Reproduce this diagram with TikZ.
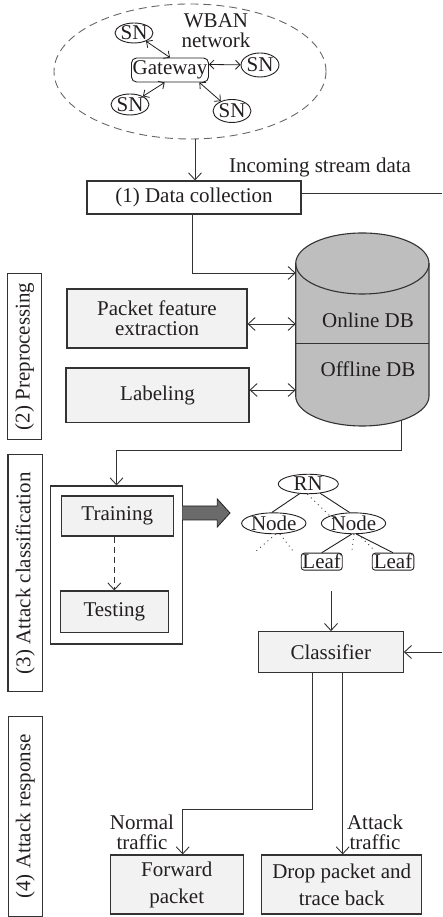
\documentclass[tikz,border=0pt]{standalone}
\usepackage{fontspec}
\setmainfont{Liberation Serif}
\usetikzlibrary{arrows.meta,shapes.geometric,calc}
\definecolor{boxfill}{HTML}{F1F2F1}
\definecolor{cylfill}{HTML}{BEBEBE}
\definecolor{bigarrow}{HTML}{6B6B6B}
\definecolor{ink}{HTML}{231F20}
\definecolor{linec}{HTML}{333333}
\begin{document}
\begin{tikzpicture}[x=1pt,y=1pt,
  font=\fontsize{21}{20}\selectfont, text=ink,
  >={Straight Barb[length=7pt,width=13pt]},
  box/.style={draw=linec, line width=1.1pt, fill=boxfill, inner sep=0pt, align=center},
  wbox/.style={box, fill=white},
  conn/.style={draw=linec, line width=0.9pt},
  wa/.style={draw=ink, line width=0.8pt, {Straight Barb[length=4.5pt,width=9pt]}-{Straight Barb[length=4.5pt,width=9pt]}},
  sn/.style={ellipse, draw=ink, line width=0.9pt, inner sep=0pt},
  leaf/.style={rectangle, rounded corners=3pt, draw=ink, line width=0.9pt, inner sep=0pt},
  dots/.style={draw=linec, line width=0.9pt, dash pattern=on 0.9pt off 4pt},
  sidebox/.style={draw=linec, line width=1.1pt, rotate=90, inner sep=0pt},
]
\useasboundingbox (0,0) rectangle (442,917);

% WBAN network
\draw[gray!80!black, line width=0.9pt, dash pattern=on 8pt off 5pt] (190,845.5) ellipse [x radius=136, y radius=67.5];
\node[align=center] (wban) at (216,886) {WBAN\\network};
\node[rectangle, rounded corners=5pt, draw=ink, line width=0.9pt, inner sep=0pt, minimum width=77, minimum height=24] (gw) at (170,847) {Gateway};
\node[sn, minimum width=30, minimum height=20] (sn1) at (134,884) {SN};
\node[sn, minimum width=34, minimum height=24] (sn2) at (260,852) {SN};
\node[sn, minimum width=31, minimum height=21] (sn3) at (130,812.5) {SN};
\node[sn, minimum width=33, minimum height=23] (sn4) at (232,806) {SN};
\draw[wa] (sn1) -- (gw.north);
\draw[wa] (gw.8) -- (sn2);
\draw[wa] (sn3) -- (gw.247);
\draw[wa] (gw.-23) -- (sn4);
\coordinate (eb) at (195,778);

% Data collection
\node[wbox, minimum width=214, minimum height=33] (dc) at (194,719.5) {(1) Data collection};
\draw[conn,->] (eb) -- (eb |- dc.north);
\node (isd) at (320,750) {Incoming stream data};
\coordinate (inR) at (442,724);
\draw[conn] (dc.east |- inR) -- (inR);

% Cylinder
\fill[cylfill] (295.7,653.5) -- (295.7,521) arc[start angle=180,end angle=360,x radius=66.65,y radius=30] -- (429,653.5) arc[start angle=0,end angle=180,x radius=66.65,y radius=30.5] -- cycle;
\draw[linec, line width=1.1pt] (295.7,653.5) -- (295.7,521) arc[start angle=180,end angle=360,x radius=66.65,y radius=30] -- (429,653.5);
\draw[linec, line width=1.1pt] (362.35,653.5) ellipse [x radius=66.65, y radius=30.5];
\draw[linec, line width=1.1pt] (295.7,573.7) -- (429,573.7);
\node (online) at (368,596.3) {Online DB};
\node (offline) at (368,548) {Offline DB};
\coordinate (cylIn) at (295.7,644);
\coordinate (cylA) at (295.7,593);
\coordinate (cylB) at (295.7,527);
\coordinate (cylOut) at (401.7,496.8);
\coordinate (dcOut) at (192,703);
\draw[conn,->] (dcOut) |- (cylIn);

% Preprocessing boxes
\node[box, minimum width=180, minimum height=59] (pfe) at (157,598.5) {Packet feature\\extraction};
\node[box, minimum width=183, minimum height=54.5] (lab) at (157.5,521.75) {Labeling};
\draw[conn,<->] (pfe.east |- cylA) -- (cylA);
\draw[conn,<->] (lab.east |- cylB) -- (cylB);

% Attack classification
\node[wbox, minimum width=131.6, minimum height=158] (ac) at (116.5,352) {};
\node[box, minimum width=112.3, minimum height=40] (tr) at (117.2,401) {Training};
\node[box, minimum width=108, minimum height=41.3] (te) at (114.3,305.3) {Testing};
\coordinate (acTurn) at (401.7,467);
\draw[conn,->] (cylOut) -- (acTurn) -| (ac.north);
\draw[conn,->, dash pattern=on 6pt off 4pt] (tr.south -| te.north) -- (te.north);
\filldraw[fill=bigarrow, draw=ink, line width=0.8pt] (182.3,411) -- (217.3,411) -- (217.3,418) -- (230,404) -- (217.3,390) -- (217.3,397) -- (182.3,397);

% Tree
\node[sn, minimum width=60, minimum height=18] (rn) at (308.3,433) {RN};
\node[sn, minimum width=61, minimum height=17] (nl) at (273.8,393.7) {Node};
\node[sn, minimum width=61.6, minimum height=17] (nr) at (353.5,393.7) {Node};
\node[leaf, minimum width=41, minimum height=17] (lf1) at (321.7,355.3) {Leaf};
\node[leaf, minimum width=41.6, minimum height=17] (lf2) at (393,355.3) {Leaf};
\draw[ink, line width=0.9pt] (rn.228) -- (nl.100);
\draw[ink, line width=0.9pt] (rn.322) -- (nr.110);
\draw[ink, line width=0.9pt] (nr.260) -- (lf1.north);
\draw[ink, line width=0.9pt] (nr.285) -- (lf2.north);
\coordinate (d1) at (333,398);
\coordinate (d2) at (255,365);
\coordinate (d3) at (293,366);
\coordinate (d4) at (352,366);
\coordinate (d5) at (375,366);
\draw[dots] (rn.265) -- (d1);
\draw[dots] (nl.280) -- (d2);
\draw[dots] (nl.300) -- (d3);
\draw[dots] (nr.272) -- (d4);
\draw[dots] (nr.292) -- (d5);

% Classifier
\node[box, minimum width=145, minimum height=40.6] (cl) at (330.8,265) {Classifier};
\coordinate (treeBot) at (331,326);
\draw[conn,->] (treeBot) -- (treeBot |- cl.north);
\coordinate (clIn) at (442,265);
\draw[conn,->] (clIn) -- (cl.east);

% Attack response
\node[box, minimum width=133.3, minimum height=59, font=\fontsize{21}{27}\selectfont] (fw) at (176.7,32.5) {Forward\\packet};
\node[box, minimum width=160, minimum height=59, font=\fontsize{21}{27}\selectfont] (dp) at (341.7,32.5) {Drop packet and\\trace back};
\coordinate (x1) at (312.7,0);
\coordinate (x2) at (342.7,0);
\coordinate (turn) at (182.7,107.7);
\draw[conn,->] (cl.south -| x1) |- (turn) -- (turn |- fw.north);
\draw[conn,->] (cl.south -| x2) -- (dp.north -| x2);
\node[align=center] (nt) at (142,85) {Normal\\traffic};
\node[align=center] (at) at (375,85) {Attack\\traffic};

% Side labels
\node[sidebox, minimum width=166, minimum height=34.4] (s2) at (24.5,560.7) {(2) Preprocessing};
\node[sidebox, minimum width=236.7, minimum height=34.7] (s3) at (25.3,343.7) {(3) Attack classification};
\node[sidebox, minimum width=199.8, minimum height=34.3] (s4) at (25.2,100.6) {(4) Attack response};
\end{tikzpicture}
\end{document}
